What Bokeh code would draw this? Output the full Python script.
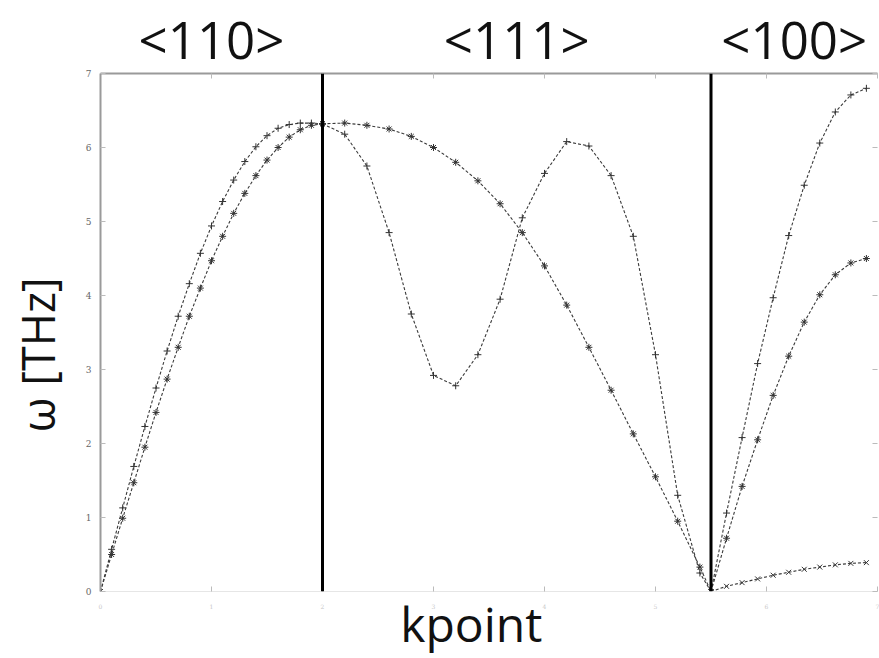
from bokeh.plotting import figure
from bokeh.models import Span, FixedTicker, LinearAxis, Range1d
from bokeh.embed import file_html
from bokeh.resources import INLINE

# ---- data ----
seg1_x = [0.0, 0.1, 0.2, 0.3, 0.4, 0.5, 0.6, 0.7, 0.8, 0.9, 1.0,
          1.1, 1.2, 1.3, 1.4, 1.5, 1.6, 1.7, 1.8, 1.9, 2.0]
seg1_upper = [0.0, 0.57, 1.13, 1.69, 2.23, 2.75, 3.25, 3.72, 4.16, 4.57, 4.94,
              5.27, 5.56, 5.81, 6.01, 6.16, 6.26, 6.31, 6.33, 6.33, 6.32]
seg1_lower = [0.0, 0.50, 0.99, 1.47, 1.95, 2.42, 2.87, 3.30, 3.72, 4.10, 4.47,
              4.80, 5.11, 5.38, 5.62, 5.83, 6.00, 6.14, 6.24, 6.30, 6.32]

seg2_x = [2.0, 2.2, 2.4, 2.6, 2.8, 3.0, 3.2, 3.4, 3.6, 3.8,
          4.0, 4.2, 4.4, 4.6, 4.8, 5.0, 5.2, 5.4, 5.5]
seg2_ta = [6.32, 6.33, 6.30, 6.25, 6.15, 6.00, 5.80, 5.55, 5.24, 4.85,
           4.40, 3.87, 3.30, 2.72, 2.13, 1.55, 0.95, 0.33, 0.0]
seg2_la = [6.32, 6.18, 5.75, 4.85, 3.75, 2.92, 2.78, 3.20, 3.95, 5.05,
           5.65, 6.08, 6.02, 5.62, 4.80, 3.20, 1.30, 0.25, 0.0]

seg3_x = [5.5, 5.64, 5.78, 5.92, 6.06, 6.2, 6.34, 6.48, 6.62, 6.76, 6.9]
seg3_top = [0.0, 1.06, 2.08, 3.08, 3.97, 4.81, 5.49, 6.06, 6.48, 6.71, 6.80]
seg3_mid = [0.0, 0.72, 1.42, 2.05, 2.65, 3.18, 3.64, 4.01, 4.28, 4.44, 4.50]
seg3_bot = [0.0, 0.07, 0.12, 0.17, 0.22, 0.26, 0.30, 0.33, 0.36, 0.38, 0.39]

boundaries = [2.0, 5.5]
directions = ["<110>", "<111>", "<100>"]
direction_x = [1.0, 3.75, 6.25]
ticks_x = [0, 1, 2, 3, 4, 5, 6, 7]
ticks_y = [0, 1, 2, 3, 4, 5, 6, 7]
x_title = "kpoint"
x_title_pos = 3.34
y_title = "ω [THz]"
y_title_pos = 3.2

p = figure(width=879, height=658, output_backend="svg", toolbar_location=None,
           x_range=Range1d(0, 7), y_range=Range1d(0, 7),
           min_border_left=100, min_border_right=2, min_border_top=73,
           min_border_bottom=66, x_axis_location=None, y_axis_location=None)
p.background_fill_color = "white"
p.border_fill_color = "white"
p.outline_line_color = None
p.xgrid.visible = False
p.ygrid.visible = False


def tick_axis(ticks, line_color, line_width, labels, font_size="9px",
              label_color="#666666", standoff=8):
    ax = LinearAxis(ticker=FixedTicker(ticks=ticks))
    ax.axis_line_color = line_color
    ax.axis_line_width = line_width
    ax.major_tick_in = 5
    ax.major_tick_out = 0
    ax.major_tick_line_color = "#bbbbbb"
    ax.minor_tick_line_color = None
    ax.major_label_text_font = "DejaVu Serif"
    ax.major_label_text_font_size = font_size
    ax.major_label_text_color = label_color
    ax.major_label_standoff = standoff
    if not labels:
        ax.major_label_overrides = {t: "" for t in ticks}
        ax.major_label_standoff = 0
    return ax


def title_axis(pos, texts, font_size, standoff, orientation="horizontal"):
    ax = LinearAxis(ticker=FixedTicker(ticks=pos))
    ax.axis_line_color = None
    ax.major_tick_line_color = None
    ax.minor_tick_line_color = None
    ax.major_tick_in = 0
    ax.major_tick_out = 0
    ax.major_label_overrides = {t: s for t, s in zip(pos, texts)}
    ax.major_label_text_font = "Open Sans"
    ax.major_label_text_font_size = font_size
    ax.major_label_text_color = "#111111"
    ax.major_label_standoff = standoff
    ax.major_label_orientation = orientation
    return ax


# left: ticks + numbers, then the rotated title
p.add_layout(tick_axis(ticks_y, "#9a9a9a", 2, True, "9px", "#666666", 9), "left")
p.add_layout(title_axis([y_title_pos], [y_title], "45px", 14, "vertical"), "left")

# bottom: faint ticks + tiny numbers, then the title
p.add_layout(tick_axis(ticks_x, "#e6e6e6", 1, True, "6px", "#c8c8c8", 12), "below")
p.add_layout(title_axis([x_title_pos], [x_title], "48px", -21), "below")

# top: ticks, then direction labels
p.add_layout(tick_axis(ticks_x, "#9a9a9a", 2, False), "above")
p.add_layout(title_axis(direction_x, directions, "51px", 0), "above")

# right: inward ticks only
p.add_layout(tick_axis(ticks_y, None, 1, False), "right")

line_kw = dict(line_color="#3a3a3a", line_width=1.1, line_dash="3 2")
mk_kw = dict(size=7, line_color="#333333", line_width=1)


def branch(xs, ys, marker):
    p.line(xs, ys, **line_kw)
    p.scatter(xs, ys, marker=marker, **mk_kw)


branch(seg1_x, seg1_upper, "cross")
branch(seg1_x, seg1_lower, "asterisk")
branch(seg2_x, seg2_la, "cross")
branch(seg2_x, seg2_ta, "asterisk")
branch(seg3_x, seg3_top, "cross")
branch(seg3_x, seg3_mid, "asterisk")
branch(seg3_x, seg3_bot, "x")

for b in boundaries:
    p.add_layout(Span(location=b, dimension="height", line_color="black", line_width=3))

open("out.html", "w").write(file_html(p, INLINE))
